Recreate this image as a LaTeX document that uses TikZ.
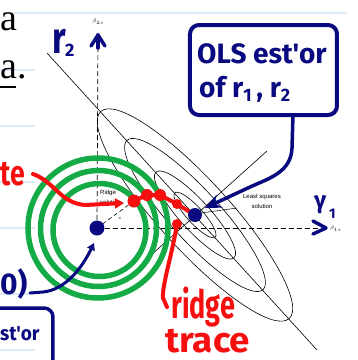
\documentclass[tikz,border=0pt]{standalone}
\usepackage{fontspec}
\setmainfont{Liberation Serif}
\newfontfamily\hand{Fira Sans}
\newfontfamily\lsans{Liberation Sans}
\usetikzlibrary{arrows.meta}
\definecolor{navy}{RGB}{10,10,128}
\definecolor{rgreen}{RGB}{20,170,70}
\definecolor{rred}{RGB}{245,15,15}
\definecolor{slideblue}{RGB}{220,233,248}
\tikzset{
  bgline/.style={slideblue, line width=1.5pt},
  axisdash/.style={black, line width=0.7pt, dash pattern=on 5pt off 3pt},
  ell/.style={black, line width=0.6pt},
  greenring/.style={rgreen, line width=5.5pt},
  redpen/.style={rred, line width=4pt, line cap=round, line join=round},
  bluepen/.style={navy, line width=3.5pt, line cap=round, line join=round},
  reddot/.style={circle, fill=rred, inner sep=0pt, minimum size=12pt},
  bluedot/.style={circle, fill=navy, inner sep=0pt, minimum size=15pt},
  hw/.style={inner sep=0pt, anchor=base west, font=\hand\bfseries},
  tiny lbl/.style={inner sep=0pt, font=\lsans\fontsize{6}{7}\selectfont},
}
\begin{document}
\begin{tikzpicture}[x=1pt,y=-1pt]
\useasboundingbox (0,0) rectangle (358,360);
\clip (0,0) rectangle (358,360);
% slide background
\draw[bgline] (13,13) -- (347,13);
\draw[bgline] (0,70) -- (35,70);
\draw[bgline] (0,126) -- (35,126);
\draw[bgline] (0,182) -- (35,182);
\draw[bgline] (0,228) -- (35,228);
\draw[bgline] (0,294) -- (30,294);
\draw[bgline] (0,350) -- (35,350);
\node[inner sep=0pt, anchor=base west, font=\fontsize{38}{38}\selectfont] (sa) at (0,30) {a};
\node[inner sep=0pt, anchor=base west, font=\fontsize{38}{38}\selectfont] (sb) at (0,78) {a.};
\draw[black, line width=2pt] (0,87) -- (16,87);
% axes
\coordinate (O) at (97,228);
\coordinate (LS) at (195,215);
\coordinate (ytop) at (98,36);
\coordinate (xend) at (327,228);
\draw[axisdash] (O) -- (ytop);
\draw[axisdash] (O) -- (xend);
\node[tiny lbl, font=\lsans\fontsize{4}{4}\selectfont] (b2) at (98,22) {$\beta_{2s}$};
\node[tiny lbl, anchor=west, font=\lsans\fontsize{5}{5}\selectfont] (b1) at (330,229) {$\beta_{1s}$};
% main axis and minor axis
\coordinate (m1) at (47,53);
\coordinate (m2) at (317,350);
\draw[ell] (m1) -- (m2);
\coordinate (n1) at (150,256);
\coordinate (n2) at (267,151);
\draw[ell] (n1) -- (n2);
% ellipses
\begin{scope}[shift={(LS)}, rotate=-47.7]
  \draw[ell] (0,0) ellipse [x radius=140pt, y radius=35pt];
  \draw[ell] (0,0) ellipse [x radius=101pt, y radius=25pt];
  \draw[ell] (0,0) ellipse [x radius=58pt, y radius=15pt];
  \draw[ell] (0,0) ellipse [x radius=30pt, y radius=8pt];
\end{scope}
% labels
\node[tiny lbl] (lsq1) at (262,197) {Least squares};
\node[tiny lbl] (lsq2) at (262,206) {solution};
\coordinate (lsl) at (237,208);
\draw[black, line width=0.5pt] (lsl) -- (201,213);
\node[tiny lbl, anchor=base west] (rid1) at (100,194) {Ridge};
\node[tiny lbl, anchor=base west] (rid2) at (100,204) {solution};
\draw[black, line width=0.5pt] (119,190) -- (131,197);
\coordinate (RS) at (134,201);
\draw[black, line width=0.6pt, dash pattern=on 4pt off 3pt] (O) -- (RS);
\node[inner sep=0pt, font=\fontsize{5}{5}\selectfont] (clbl) at (120,218) {$c$};
% green rings
\draw[greenring] (98,228) circle [radius=70pt];
\draw[greenring] (98.5,228.5) circle [radius=58pt];
\draw[greenring] (99.5,230) circle [radius=46.5pt];
% red annotations
\node[hw, text=rred, font=\hand\bfseries\fontsize{28}{28}\selectfont] (te) at (0,185) {\scalebox{0.95}[1.25]{te}};
\coordinate (rs) at (33,174);
\draw[redpen, -{Triangle[length=9pt,width=10pt]}] (rs) .. controls (55,182) and (60,203) .. (85,205) -- (124,203);
\node[reddot, minimum size=13pt] (r1) at (RS) {};
\node[reddot] (r2) at (147,195) {};
\node[reddot] (r3) at (160,195) {};
\node[reddot, minimum size=10pt] (r4) at (177,204) {};
\node[reddot, minimum size=10pt] (r5) at (177,224) {};
\draw[redpen] (r1.center) -- (r2.center) -- (r3.center) -- (r4.center) -- (190,212);
\coordinate (rt) at (167,307);
\draw[redpen] (r5.center) .. controls (172,255) and (162,285) .. (163,298) -- (rt);
\node[hw, text=rred, font=\hand\bfseries\fontsize{30}{30}\selectfont] (ridge) at (171,318) {\scalebox{0.9}[1.3]{ridge}};
\node[hw, text=rred, font=\hand\bfseries\fontsize{32}{32}\selectfont] (trace) at (165,352) {\scalebox{1.15}[1.1]{trace}};
% blue annotations
\node[bluedot] (od) at (O) {};
\node[bluedot, minimum size=14pt] (lsd) at (LS) {};
\draw[bluepen] (91,46) -- (98,35) -- (105,46);
\draw[bluepen] (98,35) -- (98,48);
\draw[bluepen] (313,221) -- (326,228) -- (313,234);
\node[hw, text=navy, font=\hand\bfseries\fontsize{34}{34}\selectfont] (r2lbl) at (52,53) {\scalebox{1}[1.3]{r}};
\node[hw, text=navy, font=\hand\bfseries\fontsize{18}{18}\selectfont] (r2sub) at (65,56) {2};
\node[hw, text=navy, font=\hand\bfseries\fontsize{24}{24}\selectfont] (g1lbl) at (314,208) {γ};
\node[hw, text=navy, font=\hand\bfseries\fontsize{14}{14}\selectfont] (g1sub) at (329,218) {1};
% OLS box
\draw[bluepen, line width=4pt, rounded corners=9pt] (190,25) rectangle (337,115);
\node[hw, text=navy, font=\hand\bfseries\fontsize{28}{28}\selectfont] (ols1) at (197,63) {OLS est'or};
\node[hw, text=navy, font=\hand\bfseries\fontsize{28}{28}\selectfont] (ols2) at (199,97) {of r{\fontsize{18}{18}\selectfont\raisebox{-4pt}{1}}\,, r{\fontsize{18}{18}\selectfont\raisebox{-4pt}{2}}};
\coordinate (bx) at (293,115);
\draw[bluepen, -{Stealth[length=16pt,width=14pt]}] (bx) -- (292,148) .. controls (291,172) and (270,178) .. (250,187) -- (205,208);
% (0) label and arrow
\node[hw, text=navy, font=\hand\bfseries\fontsize{30}{30}\selectfont] (zero) at (0,294) {0)};
\coordinate (zs) at (30,293);
\draw[bluepen, line width=3pt, -{Triangle[length=7pt,width=8pt]}] (zs) -- (43,292) .. controls (65,290) and (82,268) .. (94,243);
% bottom-left box
\draw[bluepen, rounded corners=9pt] (-30,308) rectangle (53,400);
\node[hw, text=navy, font=\hand\bfseries\fontsize{20}{20}\selectfont] (estor) at (0,340) {\scalebox{0.95}[1]{st'or}};
\end{tikzpicture}
\end{document}
